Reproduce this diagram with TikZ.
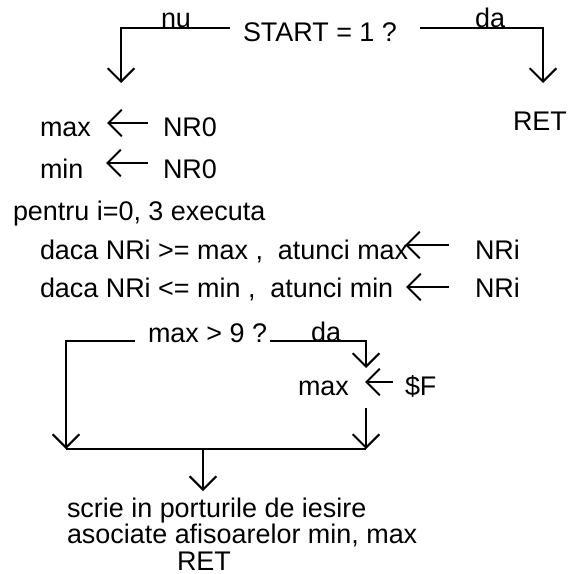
\documentclass[tikz,border=0pt]{standalone}
\usepackage{fontspec}
\setmainfont{Liberation Sans}
\usetikzlibrary{arrows.meta}
\begin{document}
\begin{tikzpicture}[x=0.75pt,y=-0.75pt,
  txt/.style={anchor=base west,inner sep=0pt,outer sep=0pt,
              font=\fontsize{20.2}{19.9}\selectfont},
  wire/.style={line width=1.5pt},
  flow/.style={wire,-{Straight Barb[length=10pt,width=20pt]}}]
\useasboundingbox (0,0) rectangle (570,574);

% --- test on START ---
\node[txt] (start) at (243,42) {START = 1 ?};
\node[txt,anchor=base] (nu) at (176,28) {nu};
\node[txt,anchor=base] (daA) at (490,28) {da};
\node[txt] (retA) at (513,131) {RET};
\coordinate (nuS) at (230,28);
\coordinate (nuK) at (121,28);
\coordinate (nuE) at (121,83);
\coordinate (daS) at (420,28);
\coordinate (daK) at (543,28);
\coordinate (daE) at (543,83);
\draw[flow] (nuS) -- (nuK) -- (nuE);
\draw[flow] (daS) -- (daK) -- (daE);

% --- initial values ---
\node[txt] (maxA) at (40,137) {max};
\node[txt] (nrA) at (163,137) {NR0};
\coordinate (arA1) at (148,123);
\coordinate (arA2) at (107,123);
\draw[flow] (arA1) -- (arA2);
\node[txt] (minA) at (40,178) {min};
\node[txt] (nrB) at (163,178) {NR0};
\coordinate (arB1) at (148,163);
\coordinate (arB2) at (106,163);
\draw[flow] (arB1) -- (arB2);

% --- loop ---
\node[txt] (loop) at (13,220) {pentru i=0, 3 executa};
\node[txt] (ifMax) at (40,259) {daca NRi >= max ,\ \ atunci max};
\node[txt] (nrMax) at (475,259) {NRi};
\coordinate (arC1) at (449,245);
\coordinate (arC2) at (405,245);
\draw[flow] (arC1) -- (arC2);
\node[txt] (ifMin) at (40,297) {daca NRi <= min ,\ \ atunci min};
\node[txt] (nrMin) at (475,297) {NRi};
\coordinate (arD1) at (449,287);
\coordinate (arD2) at (406,287);
\draw[flow] (arD1) -- (arD2);

% --- test on max ---
\node[txt] (test) at (148,342) {max > 9 ?};
\node[txt,anchor=base] (daB) at (326,341) {da};
\coordinate (tL1) at (135,341);
\coordinate (tL2) at (66,341);
\coordinate (tL3) at (66,449);
\coordinate (tR1) at (270,341);
\coordinate (tR2) at (366,341);
\coordinate (tR3) at (366,368);
\draw[flow] (tL1) -- (tL2) -- (tL3);
\draw[flow] (tR1) -- (tR2) -- (tR3);
\node[txt] (maxB) at (298,395) {max};
\node[txt] (hexF) at (405,395) {\$F};
\coordinate (arE1) at (393,382);
\coordinate (arE2) at (365,382);
\draw[flow] (arE1) -- (arE2);
\coordinate (tR4) at (366,408);
\coordinate (tR5) at (366,449);
\draw[flow] (tR4) -- (tR5);

% --- join and output ---
\coordinate (jM) at (203,449);
\coordinate (jE) at (203,491);
\draw[wire] (tL3) -- (tR5);
\draw[flow] (jM) -- (jE);
\node[txt] (outA) at (67,517) {scrie in porturile de iesire};
\node[txt] (outB) at (67,543) {asociate afisoarelor min, max};
\node[txt] (retB) at (177,570) {RET};
\end{tikzpicture}
\end{document}
